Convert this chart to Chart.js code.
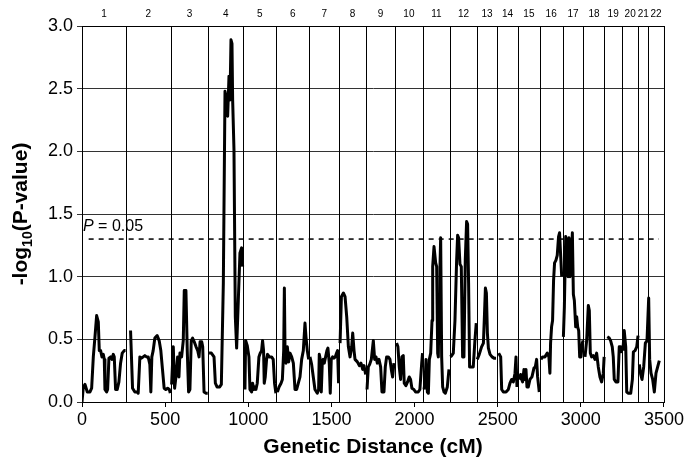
<!DOCTYPE html>
<html>
<head>
<meta charset="utf-8">
<script src="https://cdn.jsdelivr.net/npm/chart.js@4.4.1/dist/chart.umd.min.js"></script>
<style>
  html, body { margin: 0; padding: 0; background: #fff; }
  #wrap { width: 686px; height: 463px; }
</style>
</head>
<body>
<div id="wrap"><canvas id="myChart"></canvas></div>
<script>
// chromosome boundaries (cM) and labels
const chromBounds = [0, 265, 533, 759, 969, 1168, 1367, 1546, 1709, 1882, 2050, 2213, 2375, 2496, 2622, 2753, 2890, 3016, 3142, 3247, 3346, 3404, 3500];
const chromLabels = ['1','2','3','4','5','6','7','8','9','10','11','12','13','14','15','16','17','18','19','20','21','22'];

// genetic distance (cM); null in logP = break between chromosomes
const cM = [
  0,8,18,32,48,58,68,78,88,98,104,112,120,128,134,138,148,154,162,172,180,188,194,202,212,222,232,242,254,262, 265,
  292,304,318,332,338,348,358,368,378,388,398,408,414,420,428,438,452,464,474,484,494,504,515,525,531, 533,
  539,549,557,565,575,583,589,599,609,615,625,633,641,649,657,665,675,686,696,704,710,720,726,734,746,756, 759,
  764,778,794,802,812,828,838,850,860,870,876,884,890,896,902,906,914,922,930,940,950,960,966, 969,
  980,984,994,1004,1010,1020,1026,1034,1040,1046,1054,1064,1072,1080,1086,1092,1096,1102,1110,1116,1126,1140,1150,1158,1166, 1168,
  1175,1185,1197,1205,1213,1217,1221,1227,1235,1243,1251,1261,1271,1281,1291,1301,1311,1321,1331,1341,1347,1355,1363, 1367,
  1371,1381,1391,1401,1415,1423,1427,1433,1439,1445,1451,1457,1465,1473,1479,1487,1493,1499,1507,1515,1523,1531,1537,1543, 1546,
  1552,1560,1572,1582,1592,1602,1612,1622,1628,1636,1642,1656,1668,1678,1688,1696,1706, 1709,
  1714,1722,1730,1740,1752,1760,1768,1776,1786,1796,1804,1816,1824,1832,1842,1852,1860,1868,1876, 1882,
  1892,1900,1908,1916,1924,1932,1938,1948,1958,1968,1976,1984,1996,2006,2022,2032,2043,2048, 2050,
  2057,2063,2069,2077,2083,2089,2097,2105,2109,2117,2127,2133,2139,2143,2147,2153,2157,2163,2169,2177,2185,2197,2207, 2213,
  2216,2223,2233,2243,2253,2259,2265,2273,2281,2289,2297,2305,2313,2319,2325,2331,2339,2353,2363,2371, 2375,
  2377,2389,2403,2414,2420,2426,2432,2438,2444,2454,2466,2478,2490, 2496,
  2506,2518,2524,2534,2550,2564,2574,2584,2594,2604,2610,2616, 2622,
  2628,2638,2644,2650,2658,2664,2670,2676,2684,2694,2706,2718,2726,2734,2740,2750, 2753,
  2760,2770,2784,2798,2808,2814,2818,2824,2830,2836,2842,2850,2858,2866,2872,2879,2885, 2890,
  2895,2901,2909,2915,2923,2929,2935,2941,2949,2955,2961,2969,2975,2981,2987,2993,3001,3009,3014, 3016,
  3025,3035,3045,3051,3057,3065,3075,3085,3095,3105,3115,3125,3135,3140, 3142,
  3159,3171,3179,3189,3195,3201,3211,3223,3231,3239,3245, 3247,
  3253,3261,3270,3276,3286,3300,3310,3316,3326,3336,3344, 3346,
  3352,3360,3368,3378,3388,3398,
  3408,3414,3422,3432,3442,3452,3462,3472
];

// -log10(P-value)
const logP = [
  0.00,0.12,0.14,0.08,0.08,0.11,0.36,0.52,0.69,0.64,0.41,0.41,0.36,0.38,0.34,0.10,0.08,0.10,0.35,0.36,0.34,0.38,0.36,0.10,0.10,0.16,0.31,0.39,0.41,0.41, null,
  0.57,0.11,0.08,0.08,0.07,0.36,0.35,0.36,0.37,0.36,0.36,0.30,0.08,0.36,0.41,0.51,0.53,0.49,0.41,0.26,0.11,0.10,0.11,0.10,0.07, null,
  0.14,0.44,0.11,0.20,0.36,0.20,0.39,0.36,0.49,0.89,0.89,0.41,0.08,0.10,0.49,0.51,0.48,0.44,0.41,0.36,0.48,0.48,0.44,0.08,0.07,0.07, null,
  0.39,0.39,0.36,0.15,0.12,0.12,0.14,0.95,2.48,2.41,2.28,2.60,2.41,2.89,2.86,2.41,2.01,0.68,0.43,0.81,1.19,1.23,1.08, null,
  0.10,0.49,0.45,0.36,0.10,0.08,0.15,0.10,0.12,0.10,0.15,0.36,0.39,0.41,0.49,0.41,0.15,0.20,0.34,0.38,0.36,0.36,0.34,0.15,0.07, null,
  0.08,0.12,0.15,0.18,0.41,0.91,0.41,0.31,0.44,0.32,0.39,0.36,0.31,0.10,0.10,0.15,0.20,0.34,0.41,0.63,0.52,0.41,0.34, null,
  0.36,0.30,0.20,0.10,0.07,0.10,0.38,0.34,0.08,0.31,0.34,0.31,0.36,0.41,0.43,0.31,0.07,0.34,0.36,0.35,0.36,0.39,0.41,0.15, null,
  0.47,0.84,0.87,0.84,0.68,0.44,0.36,0.44,0.55,0.41,0.34,0.32,0.29,0.31,0.26,0.29,0.22, null,
  0.10,0.28,0.30,0.34,0.49,0.34,0.36,0.31,0.34,0.28,0.08,0.08,0.28,0.36,0.36,0.34,0.26,0.20,0.31, null,
  0.47,0.44,0.28,0.18,0.36,0.37,0.15,0.13,0.16,0.20,0.18,0.11,0.10,0.08,0.08,0.10,0.31,0.39, null,
  0.10,0.16,0.34,0.08,0.07,0.34,0.39,0.65,1.08,1.24,1.11,1.08,0.39,0.36,0.81,1.08,1.31,0.36,0.12,0.08,0.07,0.12,0.26, null,
  0.36,0.37,0.39,0.65,1.13,1.33,1.31,1.10,1.08,0.36,0.36,1.13,1.44,1.42,0.95,0.28,0.28,0.28,0.49,0.63, null,
  0.34,0.38,0.44,0.47,0.68,0.91,0.87,0.55,0.43,0.38,0.36,0.35,0.35, null,
  0.39,0.36,0.10,0.08,0.08,0.10,0.15,0.18,0.16,0.23,0.36,0.12, null,
  0.18,0.22,0.18,0.16,0.26,0.18,0.26,0.12,0.12,0.18,0.20,0.27,0.28,0.34,0.20,0.08, null,
  0.34,0.36,0.36,0.39,0.36,0.23,0.47,0.60,0.65,0.97,1.11,1.13,1.17,1.32,1.35,1.16,1.00, null,
  0.52,0.76,1.32,1.29,1.00,1.31,1.00,1.08,1.35,0.86,0.81,0.60,0.68,0.60,0.57,0.36,0.36,0.47,0.49, null,
  0.36,0.49,0.77,0.73,0.39,0.36,0.37,0.34,0.39,0.28,0.20,0.16,0.23,0.36, null,
  0.52,0.51,0.49,0.44,0.36,0.18,0.16,0.16,0.44,0.44,0.39, null,
  0.41,0.57,0.44,0.08,0.07,0.07,0.18,0.40,0.41,0.44,0.53, null,
  0.30,0.22,0.18,0.28,0.47,0.49,
  0.83,0.34,0.23,0.18,0.08,0.23,0.28,0.33
];

const threshold = 1.3;   // P = 0.05

const FONT = "'Liberation Sans', Arial, Helvetica, sans-serif";

const decor = {
  id: 'decor',
  beforeDatasetsDraw(chart) {
    const { ctx, chartArea: a, scales: { x } } = chart;
    ctx.save();
    ctx.strokeStyle = '#000';
    ctx.lineWidth = 1;
    // chromosome boundaries
    chromBounds.forEach(b => {
      const px = Math.round(x.getPixelForValue(b)) + 0.5;
      ctx.beginPath();
      ctx.moveTo(px, a.top);
      ctx.lineTo(px, a.bottom);
      ctx.stroke();
    });
    ctx.strokeRect(a.left + 0.5, a.top + 0.5, a.right - a.left, a.bottom - a.top);
    // chromosome numbers along the top
    ctx.fillStyle = '#000';
    ctx.font = '10px ' + FONT;
    ctx.textAlign = 'center';
    ctx.textBaseline = 'middle';
    chromLabels.forEach((lab, i) => {
      const mid = (chromBounds[i] + chromBounds[i + 1]) / 2;
      ctx.fillText(lab, x.getPixelForValue(mid), 14);
    });
    ctx.restore();
  },
  afterDraw(chart) {
    const { ctx, chartArea: a, scales: { x, y } } = chart;
    ctx.save();
    ctx.fillStyle = '#000';
    ctx.textBaseline = 'alphabetic';
    ctx.textAlign = 'left';
    // P = 0.05 label
    const ty = y.getPixelForValue(threshold) - 8;
    ctx.font = 'italic 16px ' + FONT;
    ctx.fillText('P', a.left + 1, ty);
    const pw = ctx.measureText('P').width;
    ctx.font = '16px ' + FONT;
    ctx.fillText(' = 0.05', a.left + 1 + pw, ty);

    // x title
    ctx.font = 'bold 21px ' + FONT;
    ctx.textAlign = 'center';
    ctx.textBaseline = 'middle';
    ctx.fillText('Genetic Distance (cM)', (a.left + a.right) / 2, 447);

    // y title with subscript
    ctx.translate(20, (a.top + a.bottom) / 2);
    ctx.rotate(-Math.PI / 2);
    ctx.textAlign = 'left';
    ctx.textBaseline = 'alphabetic';
    const big = 'bold 21px ' + FONT, small = 'bold 14px ' + FONT;
    ctx.font = big;  const w1 = ctx.measureText('-log').width;
    ctx.font = small; const w2 = ctx.measureText('10').width;
    ctx.font = big;  const w3 = ctx.measureText('(P-value)').width;
    let sx = -(w1 + w2 + w3) / 2;
    ctx.font = big;  ctx.fillText('-log', sx, 7); sx += w1;
    ctx.font = small; ctx.fillText('10', sx, 12); sx += w2;
    ctx.font = big;  ctx.fillText('(P-value)', sx, 7);
    ctx.restore();
  }
};

const ctx = document.getElementById('myChart');
const myChart = new Chart(ctx, {
  type: 'line',
  data: {
    datasets: [{
      label: '-log10(P-value)',
      data: cM.map((d, i) => ({ x: d, y: logP[i] })),
      borderColor: '#000',
      borderWidth: 3,
      pointRadius: 0,
      tension: 0,
      spanGaps: false,
      borderJoinStyle: 'round'
    }, {
      label: 'P = 0.05',
      data: [{ x: 40, y: threshold }, { x: 3470, y: threshold }],
      borderColor: '#000',
      borderWidth: 1.5,
      borderDash: [5, 5],
      pointRadius: 0
    }]
  },
  plugins: [decor],
  options: {
    responsive: true,
    maintainAspectRatio: false,
    animation: false,
    layout: { padding: { top: 26, right: 22, left: 0, bottom: 0 } },
    plugins: { legend: { display: false }, tooltip: { enabled: false } },
    scales: {
      x: {
        type: 'linear',
        min: 0,
        max: 3500,
        ticks: { stepSize: 500, color: '#000', font: { size: 18, family: FONT }, padding: 2, maxRotation: 0,
                 callback: v => String(v) },
        grid: { drawOnChartArea: false, drawTicks: true, tickLength: 5, color: '#000' },
        border: { color: '#000', width: 1 },
        afterFit(s) { s.height = 61; }
      },
      y: {
        min: 0,
        max: 3,
        ticks: { stepSize: 0.5, color: '#000', font: { size: 18, family: FONT }, padding: 4,
                 callback: v => v.toFixed(1) },
        grid: { color: '#333', tickLength: 5 },
        border: { color: '#000', width: 1 },
        afterFit(s) { s.width = 82; }
      }
    }
  }
});
</script>
</body>
</html>
